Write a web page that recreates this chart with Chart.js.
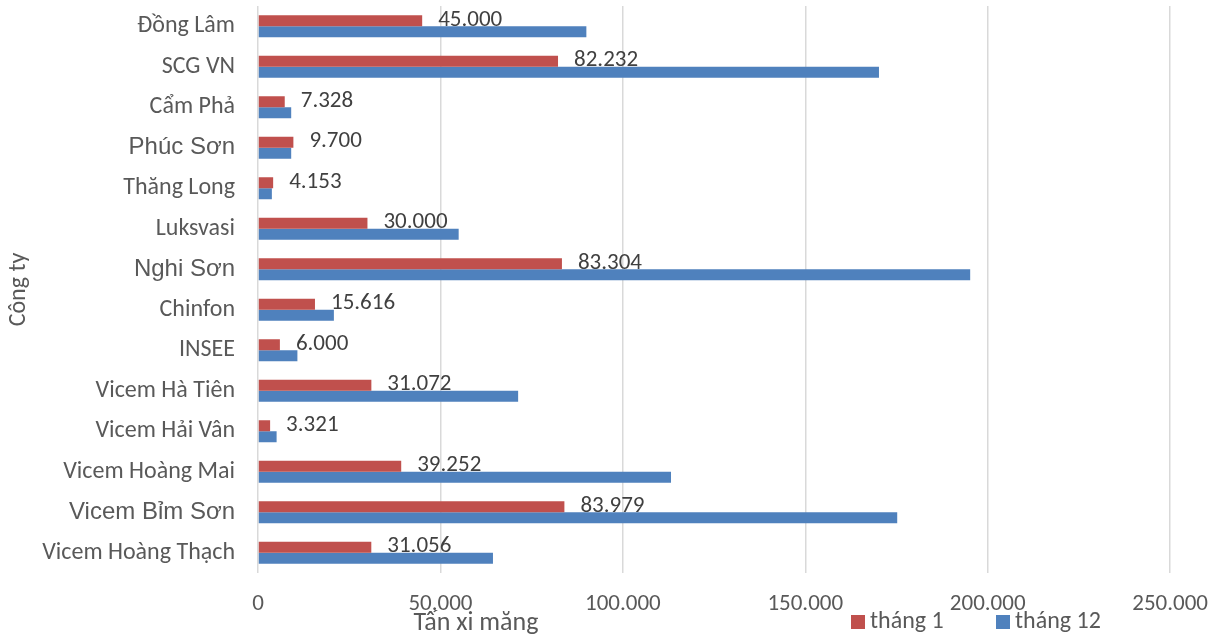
<!DOCTYPE html>
<html>
<head>
<meta charset="utf-8">
<script src="https://cdn.jsdelivr.net/npm/chart.js@4"></script>
<style>
  html, body { margin: 0; padding: 0; background: #fff; }
</style>
</head>
<body>
<canvas id="chartBox" width="1225" height="642"></canvas>
<script>
const companies = [ 'Đồng Lâm', 'SCG VN', 'Cẩm Phả', 'Phúc Sơn', 'Thăng Long', 'Luksvasi', 'Nghi Sơn', 'Chinfon', 'INSEE', 'Vicem Hà Tiên', 'Vicem Hải Vân', 'Vicem Hoàng Mai', 'Vicem Bỉm Sơn', 'Vicem Hoàng Thạch' ]
const thang1 = [ 45000, 82232, 7328, 9700, 4153, 30000, 83304, 15616, 6000, 31072, 3321, 39252, 83979, 31056 ]
const thang12 = [ 90000, 170200, 9100, 9100, 3800, 55000, 195200, 20800, 10800, 71300, 5100, 113200, 175200, 64400 ]
const seriesNames = [ 'tháng 1', 'tháng 12' ]
const xTicks = [ 0, 50000, 100000, 150000, 200000, 250000 ]
const xTitle = 'Tấn xi măng'
const yTitle = 'Công ty'

// labels that the original draws in a bigger Arial face
const bigLabels = [ 'Phúc Sơn', 'Nghi Sơn', 'Vicem Bỉm Sơn' ]
const mainFont = 'Carlito, Lato, sans-serif'

const fmt = (v) => String(v).replace(/\B(?=(\d{3})+(?!\d))/g, '.')

// value labels on tháng 1, axis title and legend drawn in Excel's places
const extras = {
    id: 'extras',
    afterDatasetsDraw(chart) {
        const ctx = chart.ctx
        const area = chart.chartArea
        ctx.save()
        ctx.font = '23px ' + mainFont
        ctx.fillStyle = '#404040'
        ctx.textAlign = 'left'
        ctx.textBaseline = 'middle'
        chart.getDatasetMeta(0).data.forEach((bar, i) => {
            ctx.fillText(fmt(chart.data.datasets[0].data[i]), bar.x + 16, bar.y - 1)
        })

        ctx.fillStyle = '#595959'
        ctx.font = '26px ' + mainFont
        ctx.textAlign = 'center'
        ctx.fillText(xTitle, area.left + 218, area.bottom + 50)

        ctx.font = '24px ' + mainFont
        ctx.textAlign = 'left'
        const legendX = [ 851, 996 ]
        chart.data.datasets.forEach((ds, i) => {
            ctx.fillStyle = ds.backgroundColor
            ctx.fillRect(legendX[i], area.bottom + 42, 14, 14)
            ctx.fillStyle = '#595959'
            ctx.fillText(ds.label, legendX[i] + 19, area.bottom + 49)
        })
        ctx.restore()
    }
}

const context = document.querySelector('#chartBox').getContext('2d')
const chart = new Chart(context, {
    type: 'bar',
    data: {
        labels: companies,
        datasets: [{
            label: seriesNames[0],
            backgroundColor: '#C0504D',
            data: thang1
        }, {
            label: seriesNames[1],
            backgroundColor: '#4F81BD',
            data: thang12
        }]
    },
    options: {
        indexAxis: 'y',
        responsive: false,
        animation: false,
        devicePixelRatio: 1,
        categoryPercentage: 0.54,
        barPercentage: 1.0,
        layout: { padding: { top: 6, right: 50, bottom: 0, left: 0 } },
        plugins: {
            legend: { display: false },
            tooltip: { enabled: false }
        },
        scales: {
            x: {
                min: 0,
                max: 250000,
                afterBuildTicks: (scale) => { scale.ticks = xTicks.map(v => ({ value: v })) },
                afterFit: (scale) => { scale.height = 69 },
                grid: { color: '#D9D9D9', lineWidth: 1.5, drawTicks: false },
                border: { display: false },
                ticks: {
                    padding: 17,
                    color: '#595959',
                    font: { family: mainFont, size: 23 },
                    callback: (v) => fmt(v)
                }
            },
            y: {
                afterFit: (scale) => {
                    scale.width = 258
                    scale.paddingTop = 0
                    scale.paddingBottom = 0
                },
                grid: { display: false, drawTicks: false },
                border: { display: false },
                ticks: {
                    padding: 23,
                    color: '#595959',
                    font: (c) => bigLabels.includes(c.tick && c.tick.label)
                        ? { family: '"Liberation Sans", Arial, sans-serif', size: 24 }
                        : { family: mainFont, size: 24 }
                },
                title: {
                    display: true,
                    text: yTitle,
                    color: '#595959',
                    font: { family: mainFont, size: 24 },
                    padding: { top: 5, bottom: 0 }
                }
            }
        }
    },
    plugins: [ extras ]
})
</script>
</body>
</html>
